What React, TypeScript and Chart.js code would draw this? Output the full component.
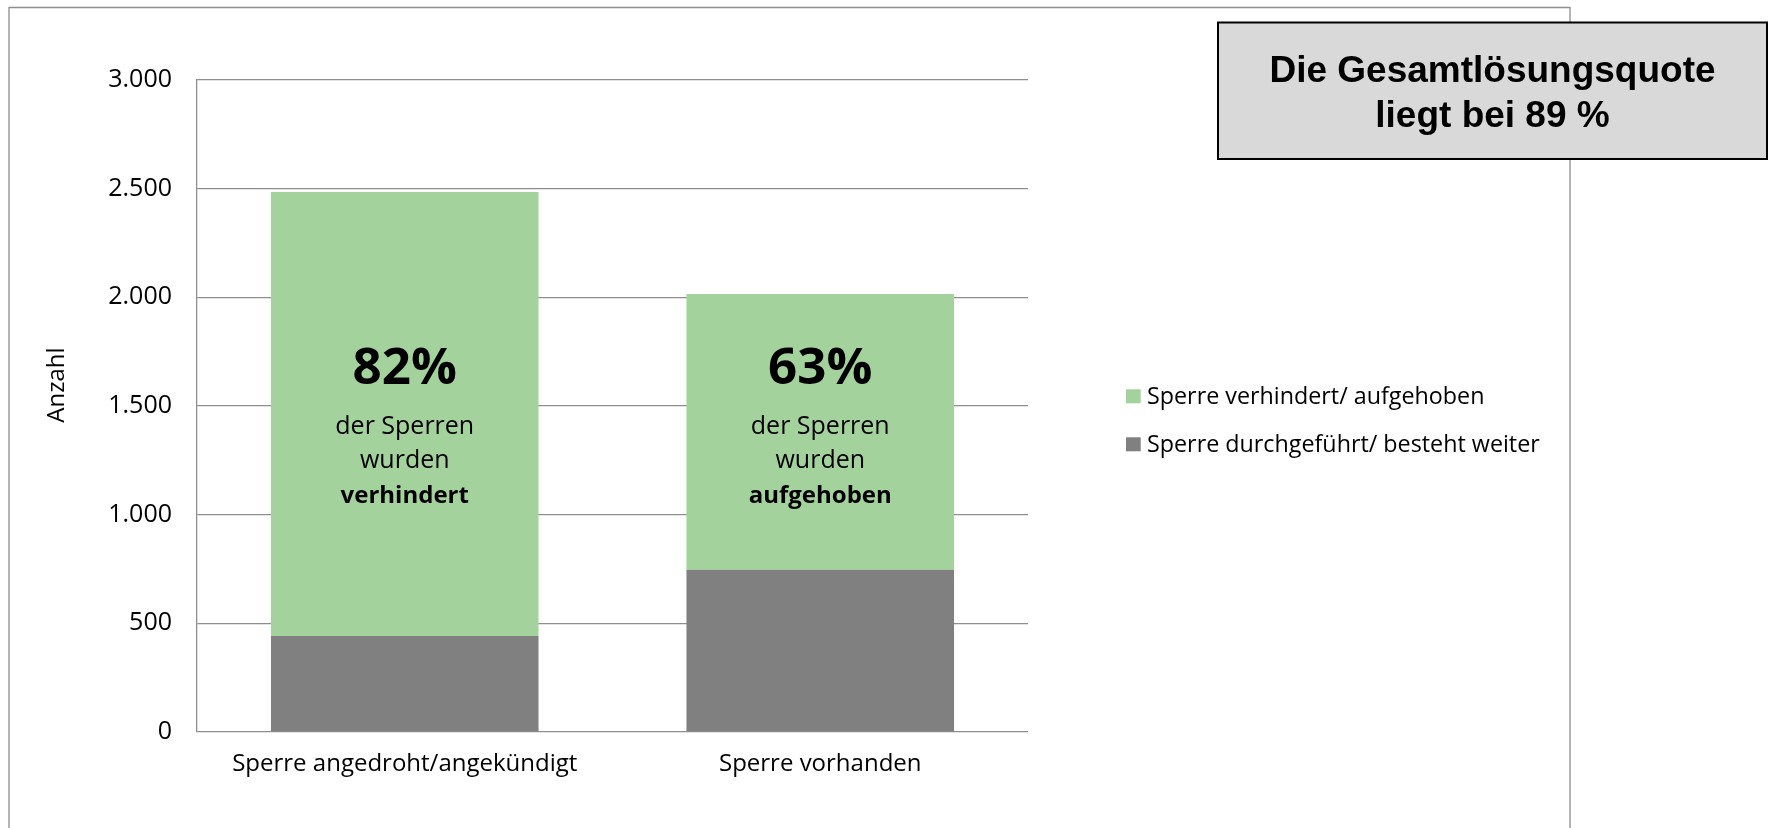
import React, { useEffect, useRef } from "react";
import { Chart, registerables } from "chart.js";

Chart.register(...registerables);

// ---- data ----
const categories = ["Sperre angedroht/angekündigt", "Sperre vorhanden"];
const seriesNames = ["Sperre durchgeführt/ besteht weiter", "Sperre verhindert/ aufgehoben"];
const durchgefuehrt = [442, 747];
const verhindert = [2043, 1268];
const seriesColors = ["#808080", "#A3D29C"];
const yMin = 0;
const yMax = 3000;
const yStep = 500;
const yTitle = "Anzahl";
const percentLabels = ["82%", "63%"];
const annotationLines = ["der Sperren", "wurden"];
const boldWords = ["verhindert", "aufgehoben"];
const boxLines = ["Die Gesamtlösungsquote", "liegt bei 89 %"];

const FF = "'Open Sans', 'Noto Sans', sans-serif";
const GRID = "#8e8e8e";

const fmt = (v: number) => String(v).replace(/\B(?=(\d{3})+(?!\d))/g, ".");

const extras = {
  id: "extras",
  beforeDraw(chart: any) {
    const ctx = chart.ctx;
    ctx.save();
    ctx.strokeStyle = GRID;
    ctx.lineWidth = 1.3;
    ctx.beginPath();
    ctx.moveTo(9, 840);
    ctx.lineTo(9, 7.5);
    ctx.lineTo(1570, 7.5);
    ctx.lineTo(1570, 840);
    ctx.stroke();
    ctx.restore();
  },
  afterDraw(chart: any) {
    const ctx = chart.ctx;
    const area = chart.chartArea;
    ctx.save();
    ctx.fillStyle = "#000";

    // y axis title
    ctx.save();
    ctx.translate(57, 385);
    ctx.rotate(-Math.PI / 2);
    ctx.font = `24px ${FF}`;
    ctx.textAlign = "center";
    ctx.textBaseline = "middle";
    ctx.fillText(yTitle, 0, 0);
    ctx.restore();

    // annotations in bars
    const meta = chart.getDatasetMeta(1);
    meta.data.forEach((bar: any, i: number) => {
      const x = bar.x;
      ctx.textAlign = "center";
      ctx.textBaseline = "alphabetic";
      ctx.font = `bold 51px ${FF}`;
      ctx.fillText(percentLabels[i], x, area.top + 304);
      ctx.font = `25px ${FF}`;
      ctx.fillText(annotationLines[0], x, area.top + 354);
      ctx.fillText(annotationLines[1], x, area.top + 388);
      ctx.font = `bold 24px ${FF}`;
      ctx.fillText(boldWords[i], x, area.top + 423);
    });

    // legend (reverse order, like the original)
    const ds = chart.data.datasets;
    const order = [1, 0];
    order.forEach((di, row) => {
      const y = 389.3 + row * 48;
      ctx.fillStyle = ds[di].backgroundColor;
      ctx.fillRect(1126, y, 14.7, 14);
      ctx.fillStyle = "#000";
      ctx.font = `23.3px ${FF}`;
      ctx.textAlign = "left";
      ctx.textBaseline = "alphabetic";
      ctx.fillText(ds[di].label, 1147, y + 15);
    });

    // summary box
    ctx.fillStyle = "#D9D9D9";
    ctx.fillRect(1218, 22.5, 549, 136.5);
    ctx.strokeStyle = "#000";
    ctx.lineWidth = 2;
    ctx.strokeRect(1218, 22.5, 549, 136.5);
    ctx.fillStyle = "#000";
    ctx.font = "bold 37px 'Liberation Sans', Arial, sans-serif";
    ctx.textAlign = "center";
    ctx.textBaseline = "alphabetic";
    ctx.fillText(boxLines[0], 1492.5, 82);
    ctx.fillText(boxLines[1], 1492.5, 127);
    ctx.restore();
  },
};

export default function App() {
  const ref = useRef<HTMLCanvasElement | null>(null);
  useEffect(() => {
    if (!ref.current) return;
    const chart = new Chart(ref.current, {
      type: "bar",
      data: {
        labels: categories,
        datasets: [
          { label: seriesNames[0], data: durchgefuehrt, backgroundColor: seriesColors[0], borderWidth: 0 },
          { label: seriesNames[1], data: verhindert, backgroundColor: seriesColors[1], borderWidth: 0 },
        ],
      },
      options: {
        responsive: false,
        animation: false,
        devicePixelRatio: 1,
        layout: { padding: { left: 10, top: 80, right: 744, bottom: 0 } },
        plugins: {
          legend: { display: false },
          tooltip: { enabled: false },
          title: { display: false },
        },
        datasets: { bar: { categoryPercentage: 1, barPercentage: 0.644 } },
        scales: {
          x: {
            stacked: true,
            grid: { display: false, drawTicks: false },
            border: { display: false },
            ticks: { color: "#000", font: { family: FF, size: 24 }, padding: 18, maxRotation: 0 },
            afterFit: (s: any) => {
              s.height = 96;
            },
          },
          y: {
            stacked: true,
            min: yMin,
            max: yMax,
            ticks: {
              stepSize: yStep,
              color: "#000",
              font: { family: FF, size: 25 },
              padding: 25,
              callback: (v: any) => fmt(Number(v)),
            },
            grid: { color: GRID, lineWidth: 1.3, drawTicks: false },
            border: { display: true, color: GRID, width: 1.3 },
            afterFit: (s: any) => {
              s.width = 187;
            },
          },
        },
      } as any,
      plugins: [extras],
    });
    return () => chart.destroy();
  }, []);
  return (
    <div style={{ position: "fixed", left: 0, top: 0, width: 1772, height: 828, background: "#fff" }}>
      <canvas ref={ref} width={1772} height={828} style={{ display: "block" }} />
    </div>
  );
}
